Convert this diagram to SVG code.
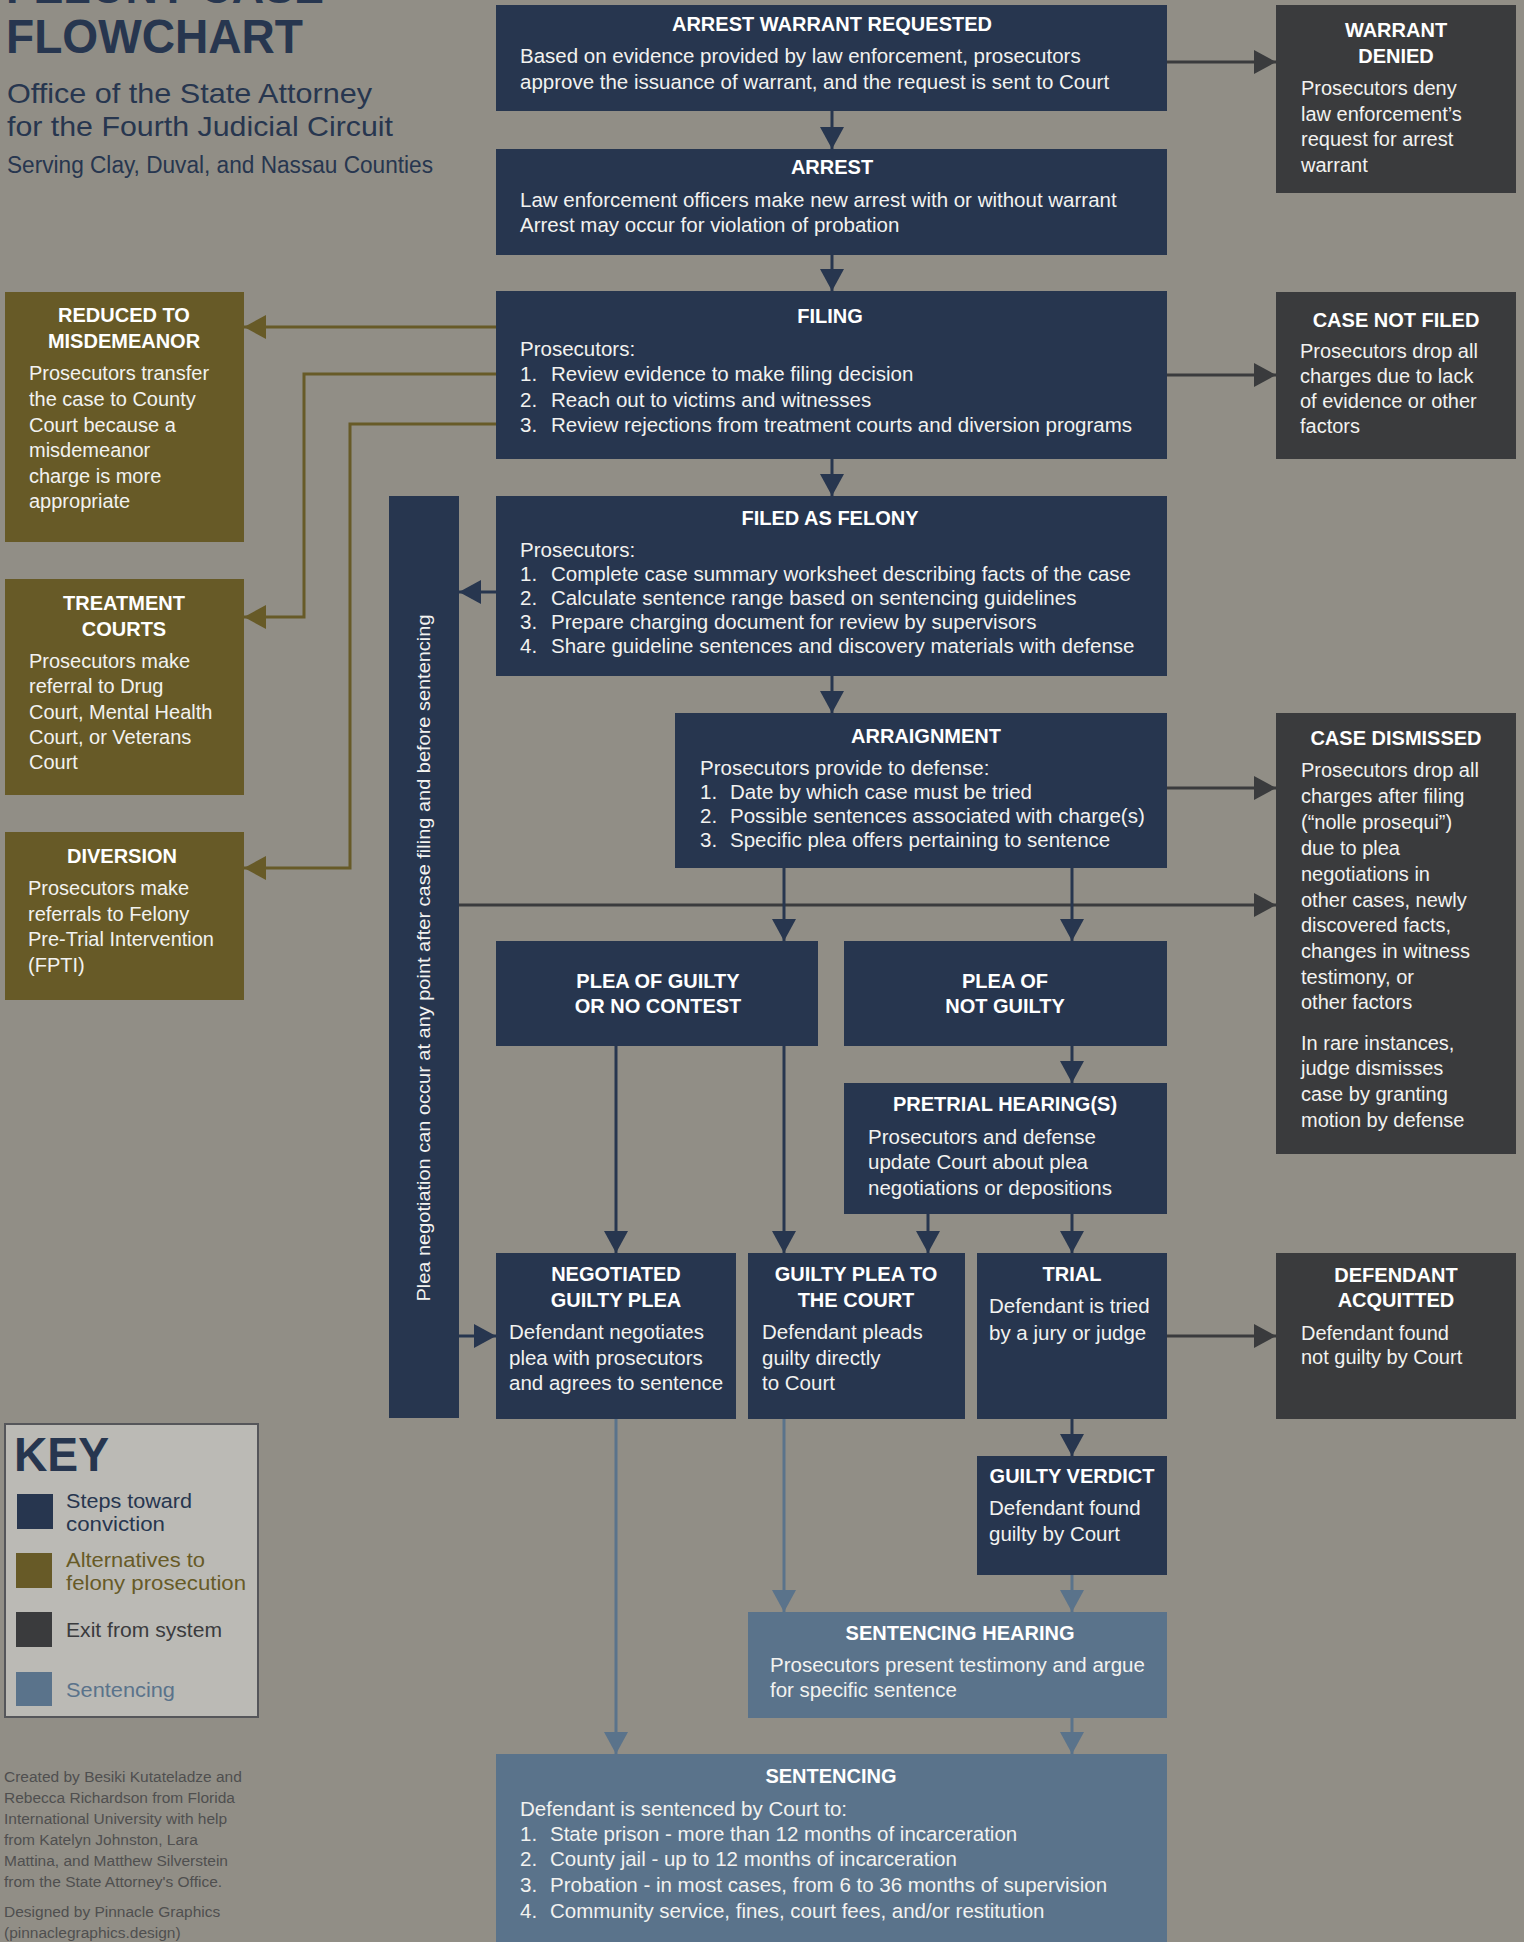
<svg xmlns="http://www.w3.org/2000/svg" width="1524" height="1942" viewBox="0 0 1524 1942">
<defs>
<style>
.navy{fill:#27364f}
.olive{fill:#675a27}
.dark{fill:#3a3b3d}
.steel{fill:#5a738b}
text{font-family:"Liberation Sans",Arial,sans-serif}
.t{font-weight:bold;font-size:20px;fill:#ffffff;text-anchor:middle}
.b{font-size:20.5px;fill:#f2f2f0}
.s{font-size:20px;fill:#f2f2f0}
.cn{stroke:#27364f;stroke-width:3;fill:none}
.cd{stroke:#3a3b3d;stroke-width:3;fill:none}
.co{stroke:#675a27;stroke-width:3;fill:none}
.cs{stroke:#5a738b;stroke-width:3;fill:none}
.key{font-size:20.5px}
.cr{font-size:15.5px;fill:#4f4f4f}
</style>
<marker id="an" markerUnits="userSpaceOnUse" markerWidth="22" markerHeight="24" refX="22" refY="12" orient="auto"><path d="M0,0 L22,12 L0,24 z" fill="#27364f"/></marker>
<marker id="ad" markerUnits="userSpaceOnUse" markerWidth="22" markerHeight="24" refX="22" refY="12" orient="auto"><path d="M0,0 L22,12 L0,24 z" fill="#3a3b3d"/></marker>
<marker id="ao" markerUnits="userSpaceOnUse" markerWidth="22" markerHeight="24" refX="22" refY="12" orient="auto"><path d="M0,0 L22,12 L0,24 z" fill="#675a27"/></marker>
<marker id="as" markerUnits="userSpaceOnUse" markerWidth="22" markerHeight="24" refX="22" refY="12" orient="auto"><path d="M0,0 L22,12 L0,24 z" fill="#5a738b"/></marker>
</defs>
<rect x="0" y="0" width="1524" height="1942" fill="#918e86"/>

<g id="header">
<text x="6" y="3" font-weight="bold" font-size="49" fill="#27364f" textLength="318" lengthAdjust="spacingAndGlyphs">FELONY CASE</text>
<text x="6" y="53" font-weight="bold" font-size="49" fill="#27364f" textLength="297" lengthAdjust="spacingAndGlyphs">FLOWCHART</text>
<text x="7" y="103" font-size="28" fill="#27364f" textLength="365" lengthAdjust="spacingAndGlyphs">Office of the State Attorney</text>
<text x="7" y="136" font-size="28" fill="#27364f" textLength="386" lengthAdjust="spacingAndGlyphs">for the Fourth Judicial Circuit</text>
<text x="7" y="173" font-size="23" fill="#27364f" textLength="426" lengthAdjust="spacingAndGlyphs">Serving Clay, Duval, and Nassau Counties</text>
</g>

<g id="connectors">
<path class="cd" d="M459,905 H1276" marker-end="url(#ad)"/>
<path class="cd" d="M1167,62 H1276" marker-end="url(#ad)"/>
<path class="cd" d="M1167,375 H1276" marker-end="url(#ad)"/>
<path class="cd" d="M1167,788 H1276" marker-end="url(#ad)"/>
<path class="cd" d="M1167,1336 H1276" marker-end="url(#ad)"/>
<path class="co" d="M496,327 H244" marker-end="url(#ao)"/>
<path class="co" d="M496,374 H304 V617 H244" marker-end="url(#ao)"/>
<path class="co" d="M496,424 H350 V868 H244" marker-end="url(#ao)"/>
<path class="cn" d="M832,111 V149" marker-end="url(#an)"/>
<path class="cn" d="M832,255 V291" marker-end="url(#an)"/>
<path class="cn" d="M832,459 V496" marker-end="url(#an)"/>
<path class="cn" d="M832,676 V713" marker-end="url(#an)"/>
<path class="cn" d="M496,592 H459" marker-end="url(#an)"/>
<path class="cn" d="M784,868 V941" marker-end="url(#an)"/>
<path class="cn" d="M1072,868 V941" marker-end="url(#an)"/>
<path class="cn" d="M616,1046 V1253" marker-end="url(#an)"/>
<path class="cn" d="M784,1046 V1253" marker-end="url(#an)"/>
<path class="cn" d="M1072,1046 V1083" marker-end="url(#an)"/>
<path class="cn" d="M928,1214 V1253" marker-end="url(#an)"/>
<path class="cn" d="M1072,1214 V1253" marker-end="url(#an)"/>
<path class="cn" d="M459,1336 H496" marker-end="url(#an)"/>
<path class="cn" d="M1072,1419 V1456" marker-end="url(#an)"/>
<path class="cs" d="M616,1419 V1754" marker-end="url(#as)"/>
<path class="cs" d="M784,1419 V1612" marker-end="url(#as)"/>
<path class="cs" d="M1072,1575 V1612" marker-end="url(#as)"/>
<path class="cs" d="M1072,1718 V1754" marker-end="url(#as)"/>
</g>

<g id="warrant-requested">
<rect class="navy" x="496" y="5" width="671" height="106"/>
<text class="t" x="832" y="31">ARREST WARRANT REQUESTED</text>
<text class="b" x="520" y="63">Based on evidence provided by law enforcement, prosecutors</text>
<text class="b" x="520" y="89">approve the issuance of warrant, and the request is sent to Court</text>
</g>

<g id="warrant-denied">
<rect class="dark" x="1276" y="5" width="240" height="188"/>
<text class="t" x="1396" y="37">WARRANT</text>
<text class="t" x="1396" y="63">DENIED</text>
<text class="s" x="1301" y="95">Prosecutors deny</text>
<text class="s" x="1301" y="121">law enforcement’s</text>
<text class="s" x="1301" y="146">request for arrest</text>
<text class="s" x="1301" y="172">warrant</text>
</g>

<g id="arrest">
<rect class="navy" x="496" y="149" width="671" height="106"/>
<text class="t" x="832" y="174">ARREST</text>
<text class="b" x="520" y="207">Law enforcement officers make new arrest with or without warrant</text>
<text class="b" x="520" y="232">Arrest may occur for violation of probation</text>
</g>

<g id="filing">
<rect class="navy" x="496" y="291" width="671" height="168"/>
<text class="t" x="830" y="323">FILING</text>
<text class="b" x="520" y="356">Prosecutors:</text>
<text class="b" x="520" y="381">1.</text><text class="b" x="551" y="381">Review evidence to make filing decision</text>
<text class="b" x="520" y="407">2.</text><text class="b" x="551" y="407">Reach out to victims and witnesses</text>
<text class="b" x="520" y="432">3.</text><text class="b" x="551" y="432">Review rejections from treatment courts and diversion programs</text>
</g>

<g id="case-not-filed">
<rect class="dark" x="1276" y="292" width="240" height="167"/>
<text class="t" x="1396" y="327">CASE NOT FILED</text>
<text class="s" x="1300" y="358">Prosecutors drop all</text>
<text class="s" x="1300" y="383">charges due to lack</text>
<text class="s" x="1300" y="408">of evidence or other</text>
<text class="s" x="1300" y="433">factors</text>
</g>

<g id="reduced">
<rect class="olive" x="5" y="292" width="239" height="250"/>
<text class="t" x="124" y="322">REDUCED TO</text>
<text class="t" x="124" y="348">MISDEMEANOR</text>
<text class="s" x="29" y="380">Prosecutors transfer</text>
<text class="s" x="29" y="406">the case to County</text>
<text class="s" x="29" y="432">Court because a</text>
<text class="s" x="29" y="457">misdemeanor</text>
<text class="s" x="29" y="483">charge is more</text>
<text class="s" x="29" y="508">appropriate</text>
</g>

<g id="treatment">
<rect class="olive" x="5" y="579" width="239" height="216"/>
<text class="t" x="124" y="610">TREATMENT</text>
<text class="t" x="124" y="636">COURTS</text>
<text class="s" x="29" y="668">Prosecutors make</text>
<text class="s" x="29" y="693">referral to Drug</text>
<text class="s" x="29" y="719">Court, Mental Health</text>
<text class="s" x="29" y="744">Court, or Veterans</text>
<text class="s" x="29" y="769">Court</text>
</g>

<g id="diversion">
<rect class="olive" x="5" y="832" width="239" height="168"/>
<text class="t" x="122" y="863">DIVERSION</text>
<text class="s" x="28" y="895">Prosecutors make</text>
<text class="s" x="28" y="921">referrals to Felony</text>
<text class="s" x="28" y="946">Pre-Trial Intervention</text>
<text class="s" x="28" y="972">(FPTI)</text>
</g>

<g id="plea-negotiation">
<rect class="navy" x="389" y="496" width="70" height="922"/>
<text transform="translate(430,958) rotate(-90)" text-anchor="middle" font-size="19" fill="#f2f2f0" textLength="687" lengthAdjust="spacingAndGlyphs">Plea negotiation can occur at any point after case filing and before sentencing</text>
</g>

<g id="filed-as-felony">
<rect class="navy" x="496" y="496" width="671" height="180"/>
<text class="t" x="830" y="525">FILED AS FELONY</text>
<text class="b" x="520" y="557">Prosecutors:</text>
<text class="b" x="520" y="581">1.</text><text class="b" x="551" y="581">Complete case summary worksheet describing facts of the case</text>
<text class="b" x="520" y="605">2.</text><text class="b" x="551" y="605">Calculate sentence range based on sentencing guidelines</text>
<text class="b" x="520" y="629">3.</text><text class="b" x="551" y="629">Prepare charging document for review by supervisors</text>
<text class="b" x="520" y="653">4.</text><text class="b" x="551" y="653">Share guideline sentences and discovery materials with defense</text>
</g>

<g id="arraignment">
<rect class="navy" x="675" y="713" width="492" height="155"/>
<text class="t" x="926" y="743">ARRAIGNMENT</text>
<text class="b" x="700" y="775">Prosecutors provide to defense:</text>
<text class="b" x="700" y="799">1.</text><text class="b" x="730" y="799">Date by which case must be tried</text>
<text class="b" x="700" y="823">2.</text><text class="b" x="730" y="823">Possible sentences associated with charge(s)</text>
<text class="b" x="700" y="847">3.</text><text class="b" x="730" y="847">Specific plea offers pertaining to sentence</text>
</g>

<g id="case-dismissed">
<rect class="dark" x="1276" y="713" width="240" height="441"/>
<text class="t" x="1396" y="745">CASE DISMISSED</text>
<text class="s" x="1301" y="777">Prosecutors drop all</text>
<text class="s" x="1301" y="803">charges after filing</text>
<text class="s" x="1301" y="829">(“nolle prosequi”)</text>
<text class="s" x="1301" y="855">due to plea</text>
<text class="s" x="1301" y="881">negotiations in</text>
<text class="s" x="1301" y="907">other cases, newly</text>
<text class="s" x="1301" y="932">discovered facts,</text>
<text class="s" x="1301" y="958">changes in witness</text>
<text class="s" x="1301" y="984">testimony, or</text>
<text class="s" x="1301" y="1009">other factors</text>
<text class="s" x="1301" y="1050">In rare instances,</text>
<text class="s" x="1301" y="1075">judge dismisses</text>
<text class="s" x="1301" y="1101">case by granting</text>
<text class="s" x="1301" y="1127">motion by defense</text>
</g>

<g id="plea-guilty">
<rect class="navy" x="496" y="941" width="322" height="105"/>
<text class="t" x="658" y="988">PLEA OF GUILTY</text>
<text class="t" x="658" y="1013">OR NO CONTEST</text>
</g>

<g id="plea-not-guilty">
<rect class="navy" x="844" y="941" width="323" height="105"/>
<text class="t" x="1005" y="988">PLEA OF</text>
<text class="t" x="1005" y="1013">NOT GUILTY</text>
</g>

<g id="pretrial">
<rect class="navy" x="844" y="1083" width="323" height="131"/>
<text class="t" x="1005" y="1111">PRETRIAL HEARING(S)</text>
<text class="b" x="868" y="1144">Prosecutors and defense</text>
<text class="b" x="868" y="1169">update Court about plea</text>
<text class="b" x="868" y="1195">negotiations or depositions</text>
</g>

<g id="negotiated">
<rect class="navy" x="496" y="1253" width="240" height="166"/>
<text class="t" x="616" y="1281">NEGOTIATED</text>
<text class="t" x="616" y="1307">GUILTY PLEA</text>
<text class="b" x="509" y="1339">Defendant negotiates</text>
<text class="b" x="509" y="1365">plea with prosecutors</text>
<text class="b" x="509" y="1390">and agrees to sentence</text>
</g>

<g id="guilty-plea-court">
<rect class="navy" x="748" y="1253" width="217" height="166"/>
<text class="t" x="856" y="1281">GUILTY PLEA TO</text>
<text class="t" x="856" y="1307">THE COURT</text>
<text class="b" x="762" y="1339">Defendant pleads</text>
<text class="b" x="762" y="1365">guilty directly</text>
<text class="b" x="762" y="1390">to Court</text>
</g>

<g id="trial">
<rect class="navy" x="977" y="1253" width="190" height="166"/>
<text class="t" x="1072" y="1281">TRIAL</text>
<text class="b" x="989" y="1313">Defendant is tried</text>
<text class="b" x="989" y="1340">by a jury or judge</text>
</g>

<g id="acquitted">
<rect class="dark" x="1276" y="1253" width="240" height="166"/>
<text class="t" x="1396" y="1282">DEFENDANT</text>
<text class="t" x="1396" y="1307">ACQUITTED</text>
<text class="s" x="1301" y="1340">Defendant found</text>
<text class="s" x="1301" y="1364">not guilty by Court</text>
</g>

<g id="guilty-verdict">
<rect class="navy" x="977" y="1456" width="190" height="119"/>
<text class="t" x="1072" y="1483">GUILTY VERDICT</text>
<text class="b" x="989" y="1515">Defendant found</text>
<text class="b" x="989" y="1541">guilty by Court</text>
</g>

<g id="sentencing-hearing">
<rect class="steel" x="748" y="1612" width="419" height="106"/>
<text class="t" x="960" y="1640">SENTENCING HEARING</text>
<text class="b" x="770" y="1672">Prosecutors present testimony and argue</text>
<text class="b" x="770" y="1697">for specific sentence</text>
</g>

<g id="sentencing">
<rect class="steel" x="496" y="1754" width="671" height="200"/>
<text class="t" x="831" y="1783">SENTENCING</text>
<text class="b" x="520" y="1816">Defendant is sentenced by Court to:</text>
<text class="b" x="520" y="1841">1.</text><text class="b" x="550" y="1841">State prison - more than 12 months of incarceration</text>
<text class="b" x="520" y="1866">2.</text><text class="b" x="550" y="1866">County jail - up to 12 months of incarceration</text>
<text class="b" x="520" y="1892">3.</text><text class="b" x="550" y="1892">Probation - in most cases, from 6 to 36 months of supervision</text>
<text class="b" x="520" y="1918">4.</text><text class="b" x="550" y="1918">Community service, fines, court fees, and/or restitution</text>
</g>

<g id="key">
<rect x="5" y="1424" width="253" height="293" fill="#bbbab5" stroke="#55565a" stroke-width="2"/>
<text x="14" y="1471" font-weight="bold" font-size="48" fill="#27364f" textLength="95" lengthAdjust="spacingAndGlyphs">KEY</text>
<rect class="navy" x="17" y="1494" width="36" height="35"/>
<text class="key" x="66" y="1508" fill="#27364f" textLength="126" lengthAdjust="spacingAndGlyphs">Steps toward</text>
<text class="key" x="66" y="1531" fill="#27364f" textLength="99" lengthAdjust="spacingAndGlyphs">conviction</text>
<rect class="olive" x="16" y="1553" width="36" height="35"/>
<text class="key" x="66" y="1567" fill="#675a27" textLength="139" lengthAdjust="spacingAndGlyphs">Alternatives to</text>
<text class="key" x="66" y="1590" fill="#675a27" textLength="180" lengthAdjust="spacingAndGlyphs">felony prosecution</text>
<rect class="dark" x="16" y="1612" width="36" height="35"/>
<text class="key" x="66" y="1637" fill="#3a3b3d" textLength="156" lengthAdjust="spacingAndGlyphs">Exit from system</text>
<rect class="steel" x="16" y="1672" width="36" height="34"/>
<text class="key" x="66" y="1697" fill="#5a738b" textLength="109" lengthAdjust="spacingAndGlyphs">Sentencing</text>
</g>

<g id="credits">
<text class="cr" x="4" y="1782">Created by Besiki Kutateladze and</text>
<text class="cr" x="4" y="1803">Rebecca Richardson from Florida</text>
<text class="cr" x="4" y="1824">International University with help</text>
<text class="cr" x="4" y="1845">from Katelyn Johnston, Lara</text>
<text class="cr" x="4" y="1866">Mattina, and Matthew Silverstein</text>
<text class="cr" x="4" y="1887">from the State Attorney's Office.</text>
<text class="cr" x="4" y="1917">Designed by Pinnacle Graphics</text>
<text class="cr" x="4" y="1938">(pinnaclegraphics.design)</text>
</g>
</svg>
